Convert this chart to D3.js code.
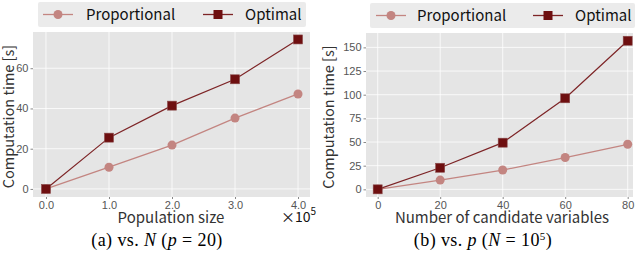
<!DOCTYPE html>
<html>
<head>
<meta charset="utf-8">
<script src="https://cdn.jsdelivr.net/npm/d3@7"></script>
<style>
  body { margin: 0; background: #fff; }
  svg { display: block; }
</style>
</head>
<body>
<svg id="chart" width="640" height="255"></svg>
<script>
// series names
const seriesNames = ["Proportional", "Optimal"];

// (a) vs. N
const popSizes = [0, 1, 2, 3, 4];
const propA = [0, 10.8, 21.8, 35.2, 47.2];
const optA = [0, 25.5, 41.4, 54.5, 74.3];
const yTicksA = [0, 20, 40, 60];

// (b) vs. p
const numVars = [0, 20, 40, 60, 80];
const propB = [0, 9.8, 20.4, 33.6, 47.6];
const optB = [0, 22.8, 49.3, 96.2, 157];
const yTicksB = [0, 25, 50, 75, 100, 125, 150];

const colProp = "#c38581", colOpt = "#6e0f10", colOptLine = "#7d2426";
const sansFont = "'Noto Sans CJK JP', 'Noto Sans', sans-serif";
const tickFont = "'Liberation Sans', Arial, sans-serif";

const svg = d3.select("#chart");

function panel(cfg) {
	const g = svg.append("g");
	const x = d3.scaleLinear().domain(cfg.xDomain).range([cfg.left, cfg.right]);
	const y = d3.scaleLinear().domain(cfg.yDomain).range([cfg.bottom, cfg.top]);

	g.append("rect")
		.attr("x", cfg.left).attr("y", cfg.top)
		.attr("width", cfg.right - cfg.left).attr("height", cfg.bottom - cfg.top)
		.attr("fill", "#e5e5e5");

	// grid
	g.append("g").selectAll("line").data(cfg.xs).join("line")
		.attr("x1", d => x(d)).attr("x2", d => x(d))
		.attr("y1", cfg.top).attr("y2", cfg.bottom)
		.attr("stroke", "#fff").attr("stroke-width", 1).attr("opacity", 0.8);
	g.append("g").selectAll("line").data(cfg.yTicks).join("line")
		.attr("y1", d => y(d)).attr("y2", d => y(d))
		.attr("x1", cfg.left).attr("x2", cfg.right)
		.attr("stroke", "#fff").attr("stroke-width", 1).attr("opacity", 0.8);

	// axes
	const ax = g.append("g").attr("transform", `translate(0,${cfg.bottom})`)
		.call(d3.axisBottom(x).tickValues(cfg.xs).tickFormat(cfg.xFormat).tickSize(2));
	ax.selectAll(".tick text").attr("y", 4);
	const ay = g.append("g").attr("transform", `translate(${cfg.left},0)`)
		.call(d3.axisLeft(y).tickValues(cfg.yTicks).tickSize(2.5).tickPadding(2));
	[ax, ay].forEach(a => {
		a.select(".domain").remove();
		a.selectAll(".tick line").attr("stroke", "#888");
		a.selectAll(".tick text").attr("fill", "#555").attr("font-family", tickFont).attr("font-size", 11);
	});

	const line = d3.line().x((d, i) => x(cfg.xs[i])).y(d => y(d));

	g.append("path").datum(cfg.prop).attr("d", line)
		.attr("fill", "none").attr("stroke", colProp).attr("stroke-width", 1.3);
	g.append("path").datum(cfg.opt).attr("d", line)
		.attr("fill", "none").attr("stroke", colOptLine).attr("stroke-width", 1.2);

	g.append("g").selectAll("circle").data(cfg.prop).join("circle")
		.attr("cx", (d, i) => x(cfg.xs[i])).attr("cy", d => y(d)).attr("r", 4.5)
		.attr("fill", colProp);
	g.append("g").selectAll("rect").data(cfg.opt).join("rect")
		.attr("x", (d, i) => x(cfg.xs[i]) - 4.5).attr("y", d => y(d) - 4.5)
		.attr("width", 9).attr("height", 9)
		.attr("fill", colOpt).attr("stroke", "#8a4a4a").attr("stroke-width", 0.6);

	// axis titles
	g.append("text").attr("x", cfg.xTitleX).attr("y", 223)
		.attr("text-anchor", "middle").attr("font-family", sansFont).attr("font-size", 15)
		.attr("fill", "#333").text(cfg.xTitle);
	g.append("text")
		.attr("transform", `translate(${cfg.yTitleX},${(cfg.top + cfg.bottom) / 2 + 2}) rotate(-90)`)
		.attr("text-anchor", "middle").attr("font-family", sansFont).attr("font-size", 14.5)
		.attr("fill", "#333").text("Computation time [s]");

	// legend
	const lg = g.append("g");
	lg.append("rect").attr("x", cfg.legX).attr("y", cfg.legY)
		.attr("width", cfg.legW).attr("height", 25).attr("rx", 2)
		.attr("fill", "#ebebeb");
	const ly = cfg.legY + 12.5;
	seriesNames.forEach((name, i) => {
		const mx = cfg.legMarks[i];
		lg.append("line").attr("x1", mx - 15).attr("x2", mx + 15).attr("y1", ly).attr("y2", ly)
			.attr("stroke", i === 0 ? colProp : colOptLine).attr("stroke-width", 1.3);
		if (i === 0) {
			lg.append("circle").attr("cx", mx).attr("cy", ly).attr("r", 4.5).attr("fill", colProp);
		} else {
			lg.append("rect").attr("x", mx - 4.5).attr("y", ly - 4.5).attr("width", 9).attr("height", 9)
				.attr("fill", colOpt);
		}
		lg.append("text").attr("x", cfg.legText[i]).attr("y", ly + 5.5)
			.attr("font-family", sansFont).attr("font-size", 15).attr("fill", "#111").text(name);
	});

	// caption
	g.append("text").attr("x", cfg.capX).attr("y", 245.5)
		.attr("text-anchor", "middle").attr("font-family", "'Liberation Serif', 'DejaVu Serif', serif")
		.attr("font-size", 18).attr("letter-spacing", 0.4).attr("fill", "#000")
		.html(cfg.caption);
	return g;
}

panel({
	left: 33, right: 310, top: 32, bottom: 197,
	xDomain: [-0.206, 4.19], yDomain: [-4, 78],
	xs: popSizes, prop: propA, opt: optA, yTicks: yTicksA,
	xFormat: d3.format(".1f"),
	xTitle: "Population size", xTitleX: 171, yTitleX: 14,
	legX: 38, legY: 2, legW: 268, legMarks: [58, 218], legText: [86, 245],
	capX: 157,
	caption: '(a) vs. <tspan font-style="italic">N</tspan> (<tspan font-style="italic">p</tspan> = 20)'
});

panel({
	left: 366, right: 633, top: 33, bottom: 197,
	xDomain: [-3.74, 81.7], yDomain: [-8.1, 165.2],
	xs: numVars, prop: propB, opt: optB, yTicks: yTicksB,
	xFormat: d3.format("d"),
	xTitle: "Number of candidate variables", xTitleX: 502, yTitleX: 334,
	legX: 370, legY: 3, legW: 265, legMarks: [391, 548], legText: [417, 575],
	capX: 483,
	caption: '(b) vs. <tspan font-style="italic">p</tspan> (<tspan font-style="italic">N</tspan> = 10<tspan baseline-shift="super" font-size="11">5</tspan>)'
});

// x10^5 multiplier
svg.append("text").attr("x", 298.5).attr("y", 222).attr("text-anchor", "middle")
	.attr("font-family", sansFont).attr("font-size", 14).attr("fill", "#111")
	.html('×10<tspan baseline-shift="super" font-size="10">5</tspan>');
</script>
</body>
</html>
